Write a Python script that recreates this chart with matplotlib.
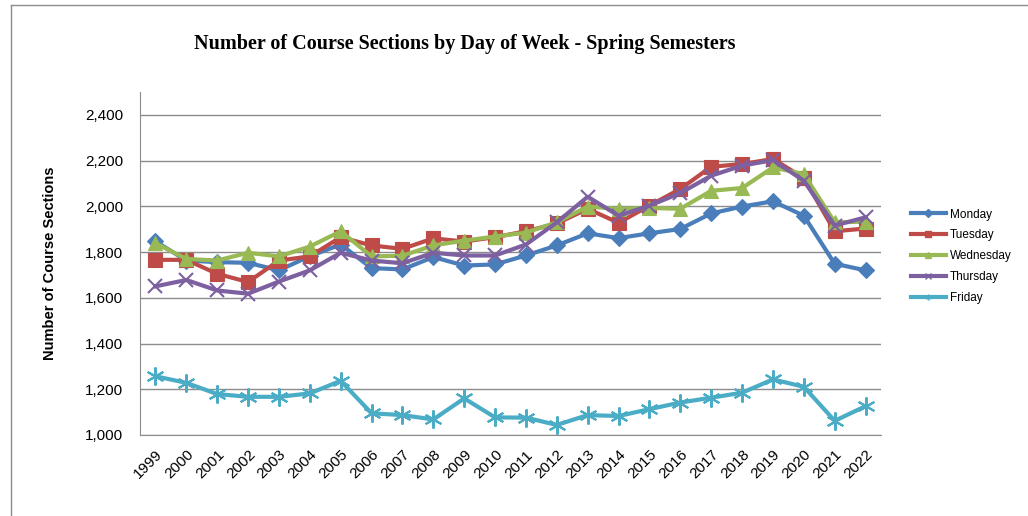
import matplotlib
matplotlib.use("Agg")
import matplotlib.pyplot as plt
from matplotlib.lines import Line2D
from matplotlib.ticker import FuncFormatter, MultipleLocator

years = list(range(1999, 2023))

monday = [1847, 1763, 1756, 1753, 1720, 1782, 1833, 1730, 1724, 1778, 1741, 1746,
          1785, 1829, 1882, 1861, 1882, 1901, 1969, 1999, 2022, 1959, 1749, 1720]
tuesday = [1766, 1766, 1705, 1669, 1763, 1781, 1865, 1829, 1814, 1860, 1846, 1865,
           1891, 1925, 1989, 1928, 2003, 2076, 2173, 2185, 2207, 2124, 1891, 1903]
wednesday = [1839, 1770, 1763, 1797, 1781, 1824, 1891, 1781, 1784, 1829, 1850, 1868,
             1885, 1930, 1999, 1989, 1993, 1989, 2068, 2080, 2170, 2141, 1930, 1933]
thursday = [1650, 1678, 1632, 1618, 1671, 1720, 1797, 1763, 1751, 1797, 1785, 1785,
            1833, 1930, 2042, 1959, 2003, 2058, 2134, 2178, 2202, 2112, 1916, 1952]
friday = [1257, 1228, 1179, 1167, 1167, 1182, 1237, 1095, 1087, 1068, 1160, 1077,
          1076, 1044, 1087, 1083, 1113, 1142, 1163, 1185, 1243, 1211, 1062, 1126]

series = [
    ("Monday", monday, "#4A7EBB", "D", 8),
    ("Tuesday", tuesday, "#BE4B48", "s", 10),
    ("Wednesday", wednesday, "#98B954", "^", 10),
    ("Thursday", thursday, "#7D60A0", "x", 10),
    ("Friday", friday, "#4BACC6", (6, 2, 0), 13),
]

plt.rcParams['font.family'] = ['Liberation Sans', 'DejaVu Sans']

fig = plt.figure(figsize=(10.28, 5.16), dpi=100)
ax = fig.add_axes([140 / 1028, 1 - 435 / 516, (881 - 140) / 1028, (435 - 92) / 516])

x = list(range(len(years)))
for name, vals, color, marker, ms in series:
    ax.plot(x, vals, color=color, lw=3, marker=marker, markersize=ms,
            markeredgewidth=1.5 if marker in ("x", (6, 2, 0)) else 0.8,
            markeredgecolor=color, label=name, zorder=3)

ax.set_xlim(-0.5, len(years) - 0.5)
ax.set_ylim(1000, 2500)
ax.yaxis.set_major_locator(MultipleLocator(200))
ax.yaxis.set_major_formatter(FuncFormatter(lambda v, p: f"{int(v):,}" if v <= 2400 else ""))
ax.set_xticks(x)
ax.set_xticklabels([str(y) for y in years], rotation=45, ha='right', rotation_mode='anchor', fontsize=11)
ax.tick_params(axis='y', labelsize=11, length=0, pad=12)
ax.tick_params(axis='x', length=0, pad=9)
ax.grid(axis='y', color='#8c8c8c', lw=1)
ax.set_axisbelow(True)
for s in ("top", "right"):
    ax.spines[s].set_visible(False)
ax.spines['left'].set_color('#8c8c8c')
ax.spines['bottom'].set_color('#8c8c8c')

ax.set_ylabel("Number of Course Sections", fontsize=10.5, fontweight='bold', labelpad=20)

fig.text(465 / 1028, 1 - 44 / 516, "Number of Course Sections by Day of Week - Spring Semesters",
         family=['Liberation Serif', 'DejaVu Serif'], fontweight='bold', fontsize=14.5,
         ha='center', va='center')

handles = [Line2D([], [], color=c, lw=3, marker=m, markersize=4, markeredgecolor=c)
           for _, _, c, m, _ in series]
fig.legend(handles, [s[0] for s in series], loc='upper left',
           bbox_to_anchor=(900 / 1028, 1 - 198 / 516), frameon=False, fontsize=8.5,
           handlelength=3.0, labelspacing=0.75, handletextpad=0.35)

# outer chart frame
fig.add_artist(Line2D([11 / 1028, 11 / 1028], [0, 1 - 5 / 516], transform=fig.transFigure,
                      color='#8c8c8c', lw=1))
fig.add_artist(Line2D([11 / 1028, 1], [1 - 5 / 516, 1 - 5 / 516], transform=fig.transFigure,
                      color='#8c8c8c', lw=1))

fig.savefig("out.png", dpi=100)
